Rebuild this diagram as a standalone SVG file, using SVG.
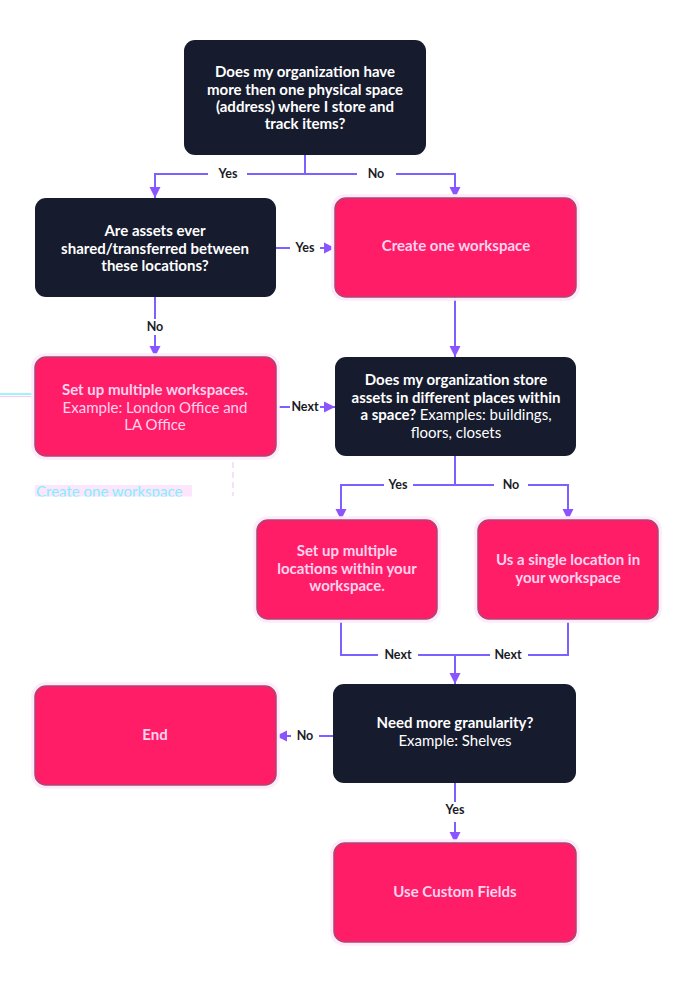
<svg xmlns="http://www.w3.org/2000/svg" width="688" height="982" viewBox="0 0 688 982">
<style>
.dark{fill:#161b2d}
.pink{fill:#ff1d68;stroke:#ad4670;stroke-width:1.5}
.halo{fill:none;stroke:#fdebfb;stroke-width:3.5}
.tw{font-family:Lato,"Open Sans",sans-serif;font-size:15px;font-weight:700;fill:#ffffff;text-anchor:middle}
.tp{font-family:Lato,"Open Sans",sans-serif;font-size:15px;font-weight:700;fill:#ffd3ec;text-anchor:middle}
.n{font-weight:400}
.lbl{font-family:Lato,"Open Sans",sans-serif;font-size:12.5px;font-weight:700;fill:#1a1b26;text-anchor:middle}
.c{fill:none;stroke:#7b61ff;stroke-width:2}
</style>
<defs>
<marker id="ah" viewBox="0 0 10 10" refX="10" refY="5" markerWidth="5.5" markerHeight="6" orient="auto" markerUnits="strokeWidth">
<path d="M0,0 L10,5 L0,10 z" fill="#8a55ff"/>
</marker>
<clipPath id="ghostclip"><rect x="30" y="480" width="200" height="16.5"/></clipPath>
</defs>
<rect width="688" height="982" fill="#ffffff"/>

<!-- faint artifacts -->
<line x1="0" y1="394" x2="36" y2="394" stroke="#9ff2ff" stroke-width="2"/>
<line x1="0" y1="396.5" x2="36" y2="396.5" stroke="#ffc8f0" stroke-width="1"/>
<line x1="233" y1="422" x2="233" y2="496" stroke="#f3d7ee" stroke-width="1.5" stroke-dasharray="6,4"/>
<rect x="35" y="485" width="157" height="11.5" fill="#fde6fb"/>
<text x="36" y="497" clip-path="url(#ghostclip)" font-family="Lato,'Open Sans',sans-serif" font-size="15" fill="#7fefff">Create one workspace</text>

<g id="connectors">
<path class="c" d="M305,155 V174 M247,174 H357"/>
<path class="c" d="M208,174 H155 V198" marker-end="url(#ah)"/>
<path class="c" d="M396,174 H455 V198" marker-end="url(#ah)"/>
<path class="c" d="M276,248 H290"/>
<path class="c" d="M320,248 H335" marker-end="url(#ah)"/>
<path class="c" d="M155,297 V319"/>
<path class="c" d="M155,335 V357" marker-end="url(#ah)"/>
<path class="c" d="M455,297 V357" marker-end="url(#ah)"/>
<path class="c" d="M276,407 H290"/>
<path class="c" d="M320,407 H335" marker-end="url(#ah)"/>
<path class="c" d="M455,456 V485 M413,485 H494"/>
<path class="c" d="M384,485 H341 V520" marker-end="url(#ah)"/>
<path class="c" d="M528,485 H568 V520" marker-end="url(#ah)"/>
<path class="c" d="M341,619 V655 H378 M418,655 H490 M528,655 H568 V619"/>
<path class="c" d="M455,655 V684" marker-end="url(#ah)"/>
<path class="c" d="M333,736 H319"/>
<path class="c" d="M291,736 H276" marker-end="url(#ah)"/>
<path class="c" d="M455,783 V802"/>
<path class="c" d="M455,822 V843" marker-end="url(#ah)"/>
<text class="lbl" x="228" y="178">Yes</text>
<text class="lbl" x="376" y="178">No</text>
<text class="lbl" x="305" y="252">Yes</text>
<text class="lbl" x="155" y="331">No</text>
<text class="lbl" x="305" y="411">Next</text>
<text class="lbl" x="398" y="489">Yes</text>
<text class="lbl" x="511" y="489">No</text>
<text class="lbl" x="398" y="659">Next</text>
<text class="lbl" x="508" y="659">Next</text>
<text class="lbl" x="305" y="740">No</text>
<text class="lbl" x="455" y="814">Yes</text>
</g>

<g id="q1">
<rect class="dark" x="184" y="40" width="242" height="115" rx="11"/>
<text class="tw" x="305" y="77">Does my organization have</text>
<text class="tw" x="305" y="95">more then one physical space</text>
<text class="tw" x="305" y="112">(address) where I store and</text>
<text class="tw" x="305" y="129">track items?</text>
</g>

<g id="q2">
<rect class="dark" x="35" y="198" width="241" height="99" rx="11"/>
<text class="tw" x="155" y="236">Are assets ever</text>
<text class="tw" x="155" y="254">shared/transferred between</text>
<text class="tw" x="155" y="271">these locations?</text>
</g>

<g id="a-create">
<rect class="halo" x="333" y="196" width="245" height="103" rx="12"/>
<rect class="pink" x="335" y="198" width="241" height="99" rx="11"/>
<text class="tp" x="456" y="251">Create one workspace</text>
</g>

<g id="a-multi-ws">
<rect class="halo" x="33" y="355" width="245" height="103" rx="12"/>
<rect class="pink" x="35" y="357" width="241" height="99" rx="11"/>
<text class="tp" x="155" y="395">Set up multiple workspaces.</text>
<text class="tp n" x="155" y="413">Example: London Office and</text>
<text class="tp n" x="155" y="430">LA Office</text>
</g>

<g id="q3">
<rect class="dark" x="335" y="357" width="241" height="99" rx="11"/>
<text class="tw" x="456" y="385">Does my organization store</text>
<text class="tw" x="456" y="403">assets in different places within</text>
<text class="tw" x="456" y="420">a space? <tspan class="n">Examples: buildings,</tspan></text>
<text class="tw n" x="456" y="438">floors, closets</text>
</g>

<g id="a-multi-loc">
<rect class="halo" x="255" y="518" width="184" height="103" rx="12"/>
<rect class="pink" x="257" y="520" width="180" height="99" rx="11"/>
<text class="tp" x="347" y="556">Set up multiple</text>
<text class="tp" x="347" y="574">locations within your</text>
<text class="tp" x="347" y="591">workspace.</text>
</g>

<g id="a-single-loc">
<rect class="halo" x="476" y="518" width="184" height="103" rx="12"/>
<rect class="pink" x="478" y="520" width="180" height="99" rx="11"/>
<text class="tp" x="568" y="565">Us a single location in</text>
<text class="tp" x="568" y="583">your workspace</text>
</g>

<g id="q4">
<rect class="dark" x="333" y="684" width="243" height="99" rx="11"/>
<text class="tw" x="455" y="728">Need more granularity?</text>
<text class="tw n" x="455" y="746">Example: Shelves</text>
</g>

<g id="end">
<rect class="halo" x="33" y="684" width="245" height="103" rx="12"/>
<rect class="pink" x="35" y="686" width="241" height="99" rx="11"/>
<text class="tp" x="155" y="740">End</text>
</g>

<g id="a-custom">
<rect class="halo" x="332" y="841" width="246" height="103" rx="12"/>
<rect class="pink" x="334" y="843" width="242" height="99" rx="11"/>
<text class="tp" x="455" y="897">Use Custom Fields</text>
</g>
</svg>
